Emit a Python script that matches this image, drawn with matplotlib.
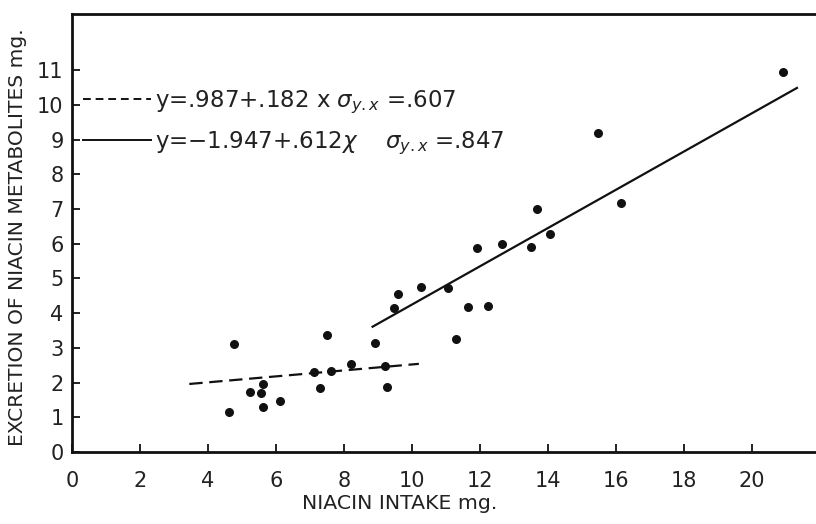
import matplotlib
matplotlib.use("Agg")
import matplotlib.pyplot as plt
from matplotlib.lines import Line2D

plt.rcParams['font.family'] = ['DejaVu Sans']
plt.rcParams['mathtext.fontset'] = 'dejavusans'

# Data
intake = [4.76, 4.62, 5.24, 5.56, 5.62, 5.62, 6.12, 7.12, 7.29, 7.50, 7.62, 8.21,
          8.91, 9.21, 9.26, 9.47, 9.59, 10.26, 11.06, 11.29, 11.64, 11.91, 12.23,
          12.65, 13.51, 13.67, 14.06, 15.47, 16.16, 20.91]
excretion = [3.11, 1.15, 1.73, 1.70, 1.96, 1.30, 1.47, 2.31, 1.84, 3.37, 2.33, 2.54,
             3.14, 2.48, 1.87, 4.14, 4.56, 4.75, 4.72, 3.26, 4.18, 5.88, 4.22,
             5.99, 5.92, 6.99, 6.27, 9.18, 7.16, 10.95]

# fitted lines as drawn (end points)
dashed_x = [3.45, 10.2]
dashed_y = [1.96, 2.54]
solid_x = [8.84, 21.32]
solid_y = [3.61, 10.49]

label_dashed = r"y=.987+.182 x $\sigma_{y.x}$ =.607"
label_solid = r"y=$-$1.947+.612$\chi$    $\sigma_{y.x}$ =.847"

x_ticks = [0, 2, 4, 6, 8, 10, 12, 14, 16, 18, 20]
y_ticks = [0, 1, 2, 3, 4, 5, 6, 7, 8, 9, 10, 11]

fig = plt.figure(figsize=(8.16, 5.24), dpi=100)
ax = fig.add_axes([72 / 816, (524 - 452) / 524, (816 - 72) / 816, (452 - 14) / 524])

ax.scatter(intake, excretion, s=30, color='#111111', zorder=3)
ax.plot(dashed_x, dashed_y, color='#111111', lw=1.6, dashes=(6, 3))
ax.plot(solid_x, solid_y, color='#111111', lw=1.6)

ax.set_xlim(0, 21.88)
ax.set_ylim(0, 12.62)
ax.set_xticks(x_ticks)
ax.set_yticks(y_ticks)
ax.set_xticklabels([str(t) for t in x_ticks])
ax.set_yticklabels([str(t) for t in y_ticks])
ax.tick_params(direction='in', length=6, width=1.3, labelsize=15, color='#111111',
               labelcolor='#222222')
ax.tick_params(axis='x', pad=14)
ax.tick_params(axis='y', pad=6)

for s in ['left', 'top', 'bottom']:
    ax.spines[s].set_linewidth(2)
    ax.spines[s].set_color('#111111')
ax.spines['right'].set_visible(False)

ax.set_xlabel("NIACIN INTAKE mg.", fontsize=14.7, color='#222222')
ax.xaxis.set_label_coords(0.44, -0.095)
ax.set_ylabel("EXCRETION OF NIACIN METABOLITES mg.", fontsize=14.6, color='#222222')
ax.yaxis.set_label_coords(-0.06, 0.49)

handles = [Line2D([], [], color='#111111', lw=1.4, dashes=(4, 2.5)),
           Line2D([], [], color='#111111', lw=1.4)]
ax.legend(handles, [label_dashed, label_solid], loc='upper left',
          bbox_to_anchor=(0.008, 0.84), frameon=False, fontsize=16.5,
          handlelength=3.0, handletextpad=0.15, labelspacing=0.6,
          borderaxespad=0.0, borderpad=0.2, labelcolor='#222222')

fig.savefig("out.png", dpi=100)
